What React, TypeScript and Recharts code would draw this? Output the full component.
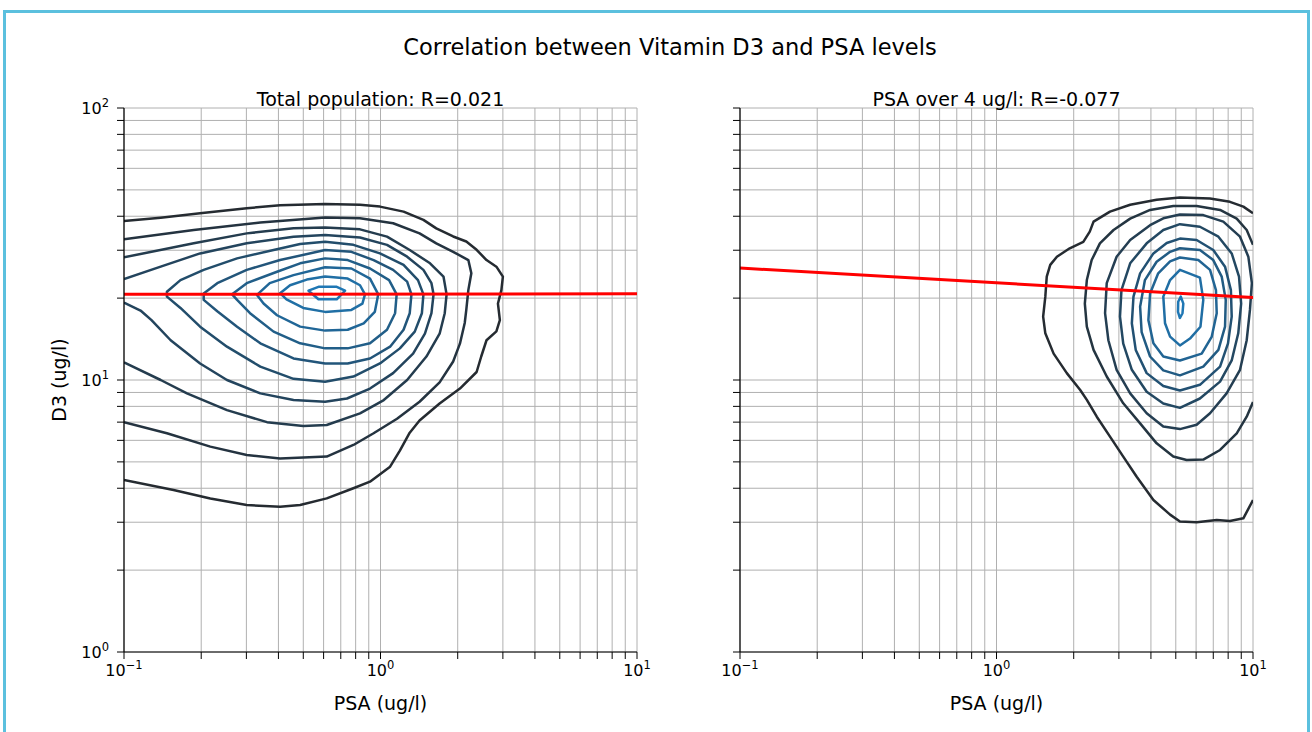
import { LineChart, Line, XAxis, YAxis, CartesianGrid } from 'recharts';

type Pt = [number, number]; // [psa, d3]

// axis ticks (log scale, every minor decade step gets a grid line)
const X_TICKS = [0.1, 0.2, 0.3, 0.4, 0.5, 0.6, 0.7, 0.8, 0.9, 1, 2, 3, 4, 5, 6, 7, 8, 9, 10];
const X_MAJOR = [0.1, 1, 10];
const X_MAJOR_EXP = ['−1', '0', '1'];
const Y_TICKS = [1, 2, 3, 4, 5, 6, 7, 8, 9, 10, 20, 30, 40, 50, 60, 70, 80, 90, 100];
const Y_MAJOR = [1, 10, 100];
const Y_MAJOR_EXP = ['0', '1', '2'];

// total population: density contours, outermost first
const totC1: Pt[] = [[0.1, 38.4], [0.139, 39.5], [0.198, 41.0], [0.301, 42.8], [0.406, 43.9], [0.608, 44.4], [0.832, 44.1], [0.995, 43.4], [1.23, 41.6], [1.47, 38.8], [1.65, 36.1], [1.92, 33.7], [2.16, 32.3], [2.37, 30.1], [2.59, 27.6], [2.83, 26.1], [3.0, 24.0], [2.96, 21.4], [2.87, 19.1], [2.92, 16.6], [2.83, 15.1], [2.59, 14.0], [2.47, 12.2], [2.37, 10.7], [2.04, 9.3], [1.7, 8.2], [1.42, 7.1], [1.3, 6.4], [1.19, 5.5], [1.09, 4.8], [0.91, 4.23], [0.784, 4.0], [0.617, 3.67], [0.486, 3.47], [0.406, 3.42], [0.301, 3.47], [0.217, 3.67], [0.156, 3.94], [0.1, 4.29]];
const totC2: Pt[] = [[0.1, 32.9], [0.187, 35.6], [0.34, 37.9], [0.608, 39.6], [0.832, 39.3], [1.12, 37.7], [1.42, 34.6], [1.65, 31.8], [1.92, 29.6], [2.2, 27.6], [2.26, 24.7], [2.2, 21.4], [2.16, 18.1], [2.13, 16.2], [2.04, 13.6], [1.92, 11.7], [1.7, 9.8], [1.42, 8.32], [1.16, 7.2], [0.94, 6.37], [0.784, 5.77], [0.617, 5.23], [0.406, 5.15], [0.301, 5.3], [0.217, 5.69], [0.147, 6.37], [0.1, 6.99]];
const totC3: Pt[] = [[0.1, 28.25], [0.187, 31.8], [0.301, 34.6], [0.458, 36.1], [0.608, 36.4], [0.832, 35.8], [1.06, 33.65], [1.3, 30.05], [1.56, 26.85], [1.76, 24.0], [1.81, 20.65], [1.78, 17.6], [1.7, 14.8], [1.51, 12.2], [1.27, 10.0], [1.03, 8.44], [0.832, 7.54], [0.617, 6.83], [0.5, 6.78], [0.361, 7.0], [0.252, 7.75], [0.176, 8.93], [0.139, 10.0], [0.1, 11.6]];
const totC4: Pt[] = [[0.1, 23.5], [0.139, 26.1], [0.198, 29.2], [0.301, 31.8], [0.458, 33.65], [0.608, 34.1], [0.832, 33.4], [1.06, 31.4], [1.27, 28.4], [1.47, 25.4], [1.58, 22.7], [1.61, 20.65], [1.58, 17.6], [1.49, 14.8], [1.34, 12.5], [1.12, 10.6], [0.91, 9.3], [0.74, 8.55], [0.608, 8.32], [0.458, 8.44], [0.34, 8.93], [0.252, 10.0], [0.198, 11.5], [0.152, 14.0], [0.128, 16.6], [0.116, 18.0], [0.1, 19.24]];
const totC5: Pt[] = [[0.147, 21.1], [0.166, 23.3], [0.2045, 25.4], [0.276, 28.0], [0.383, 30.05], [0.486, 31.6], [0.608, 32.25], [0.784, 31.4], [0.995, 29.2], [1.23, 26.5], [1.4, 23.3], [1.47, 20.65], [1.45, 17.6], [1.36, 15.06], [1.19, 13.07], [0.995, 11.5], [0.784, 10.3], [0.608, 9.86], [0.458, 10.1], [0.34, 11.2], [0.252, 13.26], [0.198, 15.7], [0.166, 18.4], [0.147, 20.25]];
const totC6: Pt[] = [[0.2045, 20.8], [0.231, 22.7], [0.301, 25.4], [0.406, 27.6], [0.608, 30.05], [0.77, 29.6], [0.94, 27.6], [1.12, 25.4], [1.27, 23.0], [1.32, 20.65], [1.3, 17.6], [1.23, 15.3], [1.09, 13.26], [0.91, 12.0], [0.745, 11.5], [0.608, 11.5], [0.458, 12.0], [0.34, 13.64], [0.276, 15.7], [0.231, 17.9], [0.2045, 19.7]];
const totC7: Pt[] = [[0.264, 20.65], [0.301, 22.7], [0.395, 25.0], [0.486, 26.85], [0.608, 28.0], [0.745, 27.6], [0.91, 25.7], [1.08, 23.3], [1.156, 20.65], [1.14, 17.6], [1.06, 15.3], [0.91, 13.64], [0.745, 13.07], [0.608, 13.07], [0.486, 13.64], [0.383, 15.06], [0.31, 17.6], [0.276, 19.7]];
const totC8: Pt[] = [[0.33, 20.55], [0.37, 22.7], [0.458, 24.3], [0.608, 25.96], [0.77, 25.7], [0.91, 23.6], [0.98, 20.65], [0.95, 17.8], [0.86, 16.16], [0.745, 15.3], [0.608, 15.19], [0.486, 15.71], [0.395, 17.3], [0.35, 19.1]];
const totC9: Pt[] = [[0.406, 20.85], [0.444, 22.3], [0.516, 23.4], [0.608, 24.0], [0.745, 23.6], [0.832, 22.3], [0.87, 20.65], [0.85, 19.1], [0.77, 18.1], [0.608, 17.8], [0.5, 18.4], [0.43, 19.8]];
const totC10: Pt[] = [[0.524, 21.3], [0.573, 22.0], [0.675, 22.0], [0.7275, 21.3], [0.675, 19.8], [0.573, 19.8]];
const totFit: Pt[] = [[0.1, 20.65], [10, 20.75]];

// PSA over 4 ug/l: density contours, outermost first
const hiC1: Pt[] = [[10, 41.0], [9.17, 43.4], [8.13, 45.2], [6.8, 46.5], [5.19, 46.9], [4.21, 46.0], [3.32, 44.1], [2.77, 41.6], [2.39, 38.2], [2.31, 35.1], [2.18, 32.2], [1.93, 30.5], [1.72, 28.4], [1.62, 26.5], [1.57, 24.0], [1.55, 20.25], [1.52, 17.1], [1.55, 14.85], [1.67, 12.5], [1.88, 10.6], [2.12, 9.19], [2.25, 8.45], [2.46, 7.33], [2.77, 6.19], [3.12, 5.23], [3.52, 4.41], [4.09, 3.62], [4.75, 3.2], [5.19, 3.02], [6.03, 3.0], [7.22, 3.06], [8.13, 3.03], [9.17, 3.1], [10, 3.62]];
const hiC2: Pt[] = [[10, 31.4], [9.45, 35.6], [8.64, 39.2], [7.44, 42.2], [6.03, 43.6], [4.89, 43.6], [3.97, 42.2], [3.32, 39.2], [2.86, 35.6], [2.53, 31.8], [2.35, 27.6], [2.25, 23.3], [2.21, 19.1], [2.25, 15.7], [2.39, 12.9], [2.69, 10.3], [3.12, 8.21], [3.63, 6.93], [4.21, 5.85], [4.89, 5.23], [5.51, 5.08], [6.4, 5.1], [7.44, 5.53], [8.64, 6.37], [9.45, 7.33], [10, 8.3]];
const hiC3: Pt[] = [[5.19, 40.6], [6.4, 40.4], [7.66, 38.2], [8.9, 33.65], [9.59, 28.4], [9.9, 22.7], [9.73, 18.1], [9.45, 14.0], [8.9, 10.9], [7.89, 8.93], [6.8, 7.55], [6.03, 6.85], [5.19, 6.6], [4.47, 6.75], [3.85, 7.55], [3.32, 8.93], [2.94, 10.9], [2.73, 14.0], [2.65, 17.6], [2.69, 22.7], [2.94, 28.4], [3.32, 32.7], [3.97, 37.1], [4.47, 39.3]];
const hiC4: Pt[] = [[5.19, 37.4], [6.21, 36.6], [7.33, 33.65], [8.26, 29.2], [8.82, 24.0], [8.99, 19.1], [8.76, 14.85], [8.26, 11.8], [7.44, 9.86], [6.21, 8.55], [5.19, 7.9], [4.47, 8.2], [3.85, 9.05], [3.37, 10.9], [3.12, 13.6], [3.03, 17.1], [3.07, 21.4], [3.32, 26.85], [3.85, 31.8], [4.47, 35.6]];
const hiC5: Pt[] = [[5.19, 33.1], [6.03, 32.7], [7.0, 30.06], [7.78, 26.1], [8.2, 21.4], [8.26, 17.1], [7.99, 13.64], [7.44, 11.2], [6.21, 9.6], [5.19, 9.15], [4.47, 9.5], [3.85, 10.6], [3.49, 12.9], [3.37, 16.16], [3.42, 20.25], [3.63, 24.67], [4.09, 29.2], [4.61, 31.9]];
const hiC6: Pt[] = [[5.19, 30.5], [6.21, 30.06], [7.0, 27.6], [7.55, 24.0], [7.83, 19.7], [7.78, 15.7], [7.33, 12.9], [6.4, 11.2], [5.19, 10.4], [4.47, 10.85], [3.97, 12.2], [3.68, 15.0], [3.63, 18.6], [3.79, 23.3], [4.21, 27.2], [4.75, 29.6]];
const hiC7: Pt[] = [[5.19, 28.2], [6.12, 27.6], [6.8, 25.4], [7.17, 21.4], [7.22, 17.6], [6.9, 14.4], [6.31, 12.5], [5.19, 11.8], [4.47, 12.2], [4.09, 13.64], [3.91, 16.6], [3.97, 20.8], [4.27, 24.67], [4.75, 27.3]];
const hiC8: Pt[] = [[5.19, 25.4], [6.21, 23.8], [6.4, 19.7], [6.24, 15.7], [5.68, 14.2], [5.19, 13.4], [4.75, 14.43], [4.54, 16.16], [4.47, 20.25], [4.75, 23.3]];
const hiC9: Pt[] = [[5.23, 20.25], [5.35, 19.1], [5.31, 17.6], [5.19, 16.9], [5.1, 17.8], [5.11, 19.4]];
const hiFit: Pt[] = [[0.1, 25.8], [10, 20.1]];

const TOT_COLORS = ['#252b31', '#243340', '#243c4e', '#23445d', '#224d6b', '#22557a', '#215e88', '#206697', '#206fa5', '#1f77b4'];
const HI_COLORS = ['#252b31', '#243541', '#243e52', '#234862', '#225173', '#215b83', '#216493', '#206ea4', '#1f77b4'];

const FONT = '"DejaVu Sans", sans-serif';

interface Contour {
  pts: Pt[];
  closed: boolean;
}

const totContours: Contour[] = [
  { pts: totC1, closed: false },
  { pts: totC2, closed: false },
  { pts: totC3, closed: false },
  { pts: totC4, closed: false },
  { pts: totC5, closed: true },
  { pts: totC6, closed: true },
  { pts: totC7, closed: true },
  { pts: totC8, closed: true },
  { pts: totC9, closed: true },
  { pts: totC10, closed: true },
];

const hiContours: Contour[] = [
  { pts: hiC1, closed: false },
  { pts: hiC2, closed: false },
  { pts: hiC3, closed: true },
  { pts: hiC4, closed: true },
  { pts: hiC5, closed: true },
  { pts: hiC6, closed: true },
  { pts: hiC7, closed: true },
  { pts: hiC8, closed: true },
  { pts: hiC9, closed: true },
];

const toRows = (pts: Pt[]) => pts.map(([psa, d3]) => ({ psa, d3 }));

function XTick({ x, y, payload }: any) {
  const i = X_MAJOR.indexOf(payload.value);
  if (i < 0) return <g />;
  return (
    <text x={x} y={y} dy={15} textAnchor="middle" fontSize={16} fontFamily={FONT} fill="#000">
      10<tspan dy={-7} fontSize={11.5}>{X_MAJOR_EXP[i]}</tspan>
    </text>
  );
}

function YTick({ x, y, payload }: any) {
  const i = Y_MAJOR.indexOf(payload.value);
  if (i < 0) return <g />;
  return (
    <text x={x} y={y} dy={6} textAnchor="end" fontSize={16} fontFamily={FONT} fill="#000">
      10<tspan dy={-7} fontSize={11.5}>{Y_MAJOR_EXP[i]}</tspan>
    </text>
  );
}

const EmptyTick = () => <g />;

interface PanelProps {
  left: number;
  width: number;
  marginLeft: number;
  marginRight: number;
  contours: Contour[];
  colors: string[];
  fit: Pt[];
  yLabels: boolean;
}

function Panel({ left, width, marginLeft, marginRight, contours, colors, fit, yLabels }: PanelProps) {
  return (
    <div style={{ position: 'absolute', left, top: 0 }}>
      <LineChart
        width={width}
        height={700}
        margin={{ top: 108, right: marginRight, bottom: 8, left: marginLeft }}
      >
        <CartesianGrid stroke="#b0b0b0" strokeWidth={1} />
        <XAxis
          dataKey="psa"
          type="number"
          scale="log"
          domain={[0.1, 10]}
          allowDataOverflow
          ticks={X_TICKS}
          interval={0}
          height={40}
          tickSize={7}
          tickLine={{ stroke: '#000', strokeWidth: 1 }}
          axisLine={{ stroke: '#000', strokeWidth: 1.2 }}
          tick={XTick}
        />
        <YAxis
          type="number"
          scale="log"
          domain={[1, 100]}
          allowDataOverflow
          ticks={Y_TICKS}
          interval={0}
          width={60}
          tickSize={7}
          tickMargin={8}
          tickLine={{ stroke: '#000', strokeWidth: 1 }}
          axisLine={{ stroke: '#000', strokeWidth: 1.2 }}
          tick={yLabels ? YTick : EmptyTick}
        />
        {contours.map((c, i) => (
          <Line
            key={i}
            data={toRows(c.pts)}
            dataKey="d3"
            type={c.closed ? 'linearClosed' : 'linear'}
            stroke={colors[i]}
            strokeWidth={2.5}
            strokeLinejoin="round"
            dot={false}
            activeDot={false}
            isAnimationActive={false}
          />
        ))}
        <Line
          data={toRows(fit)}
          dataKey="d3"
          type="linear"
          stroke="#ff0000"
          strokeWidth={3}
          dot={false}
          activeDot={false}
          isAnimationActive={false}
        />
      </LineChart>
    </div>
  );
}

export default function App() {
  return (
    <div
      style={{
        position: 'absolute',
        left: 0,
        top: 0,
        width: 1312,
        height: 732,
        background: '#fff',
        overflow: 'hidden',
        fontFamily: FONT,
      }}
    >
      <div
        style={{
          position: 'absolute',
          left: 3,
          top: 10,
          width: 1307,
          height: 722,
          boxSizing: 'border-box',
          border: '3px solid #5bc0de',
          borderBottom: 'none',
        }}
      />
      <Panel
        left={0}
        width={656}
        marginLeft={64}
        marginRight={19}
        contours={totContours}
        colors={TOT_COLORS}
        fit={totFit}
        yLabels
      />
      <Panel
        left={656}
        width={656}
        marginLeft={24}
        marginRight={59}
        contours={hiContours}
        colors={HI_COLORS}
        fit={hiFit}
        yLabels={false}
      />
      <svg
        width={1312}
        height={732}
        style={{ position: 'absolute', left: 0, top: 0, pointerEvents: 'none' }}
        fontFamily={FONT}
      >
        <text x={670} y={55} textAnchor="middle" fontSize={22.5} fill="#000">
          Correlation between Vitamin D3 and PSA levels
        </text>
        <text x={380.5} y={106} textAnchor="middle" fontSize={19} fill="#000">
          Total population: R=0.021
        </text>
        <text x={996.5} y={106} textAnchor="middle" fontSize={19} fill="#000">
          PSA over 4 ug/l: R=-0.077
        </text>
        <text x={380.5} y={710} textAnchor="middle" fontSize={19} fill="#000">
          PSA (ug/l)
        </text>
        <text x={996.5} y={710} textAnchor="middle" fontSize={19} fill="#000">
          PSA (ug/l)
        </text>
        <text x={66} y={380} textAnchor="middle" fontSize={19} fill="#000" transform="rotate(-90 66 380)">
          D3 (ug/l)
        </text>
      </svg>
    </div>
  );
}
